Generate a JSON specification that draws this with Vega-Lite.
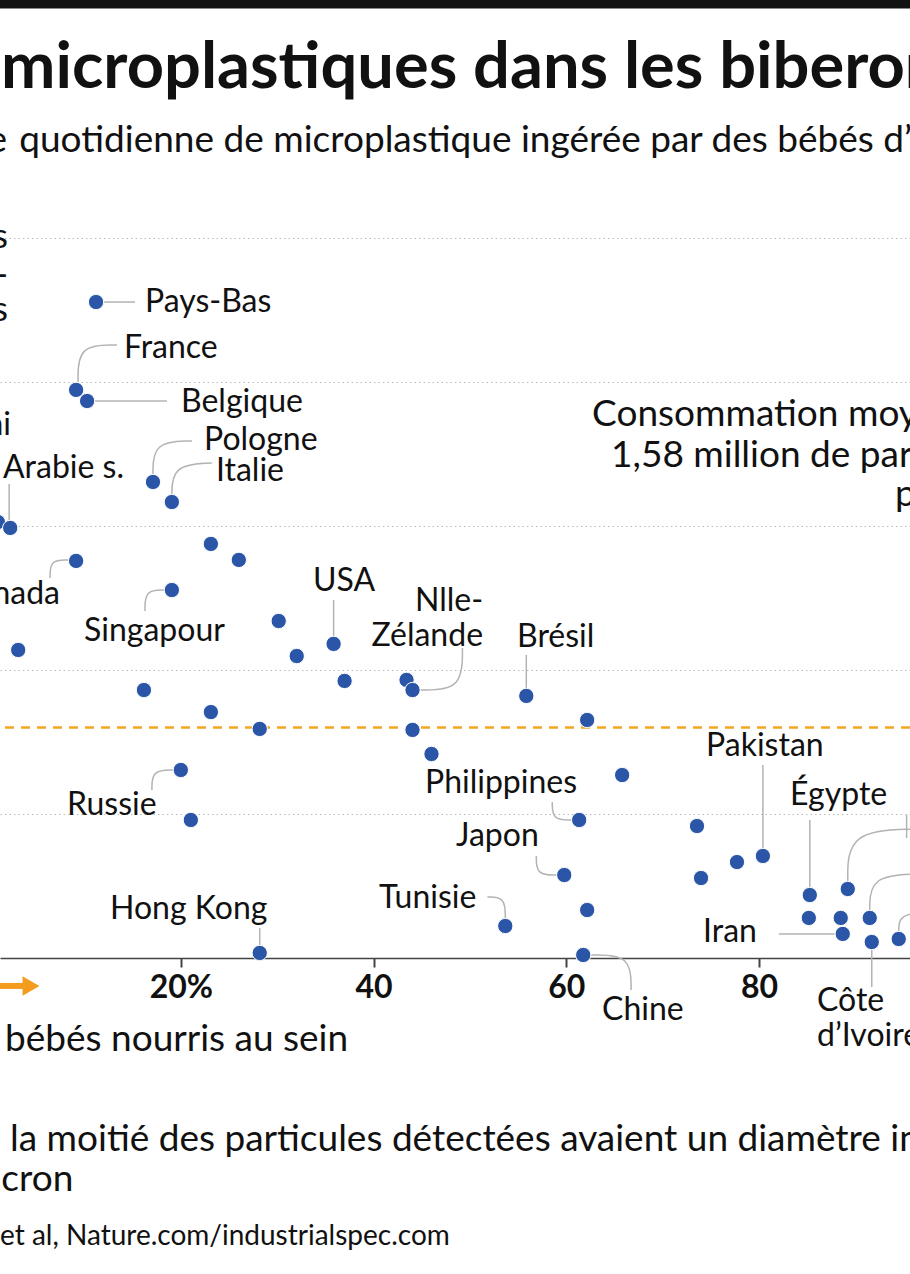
{
  "$schema": "https://vega.github.io/schema/vega-lite/v6.json",
  "width": 910,
  "height": 778,
  "autosize": {"type": "none"},
  "padding": {"left": 0, "right": 0, "top": 180, "bottom": 316},
  "background": "white",
  "config": {
    "view": {"stroke": null},
    "font": "Lato",
    "axisX": {"grid": false, "domainColor": "#444444", "domainWidth": 1.5, "tickColor": "#444444", "tickSize": 9, "tickWidth": 2, "labelFont": "Lato", "labelFontWeight": "bold", "labelFontSize": 32, "labelColor": "#111111", "labelPadding": 5, "labelFlush": false},
    "axisY": {"grid": true, "gridDash": [1.5, 3], "gridColor": "#b8b8b8", "gridWidth": 1, "labels": false, "ticks": false, "domain": false}
  },
  "datasets": {
    "points": [
      {"pays": "Pays-Bas", "allaitement": 11.19, "particules": 4.553},
      {"pays": "France", "allaitement": 9.12, "particules": 3.943},
      {"pays": "Belgique", "allaitement": 10.26, "particules": 3.866},
      {"pays": "Pologne", "allaitement": 17.10, "particules": 3.304},
      {"pays": "Italie", "allaitement": 19.06, "particules": 3.165},
      {"pays": "Royaume-Uni", "allaitement": 1.0, "particules": 3.026},
      {"pays": "Arabie saoudite", "allaitement": 2.28, "particules": 2.985},
      {"pays": null, "allaitement": 23.11, "particules": 2.874},
      {"pays": null, "allaitement": 26.01, "particules": 2.763},
      {"pays": "Canada", "allaitement": 9.12, "particules": 2.756},
      {"pays": "Singapour", "allaitement": 19.06, "particules": 2.554},
      {"pays": null, "allaitement": 3.11, "particules": 2.138},
      {"pays": null, "allaitement": 30.15, "particules": 2.339},
      {"pays": "USA", "allaitement": 35.85, "particules": 2.180},
      {"pays": null, "allaitement": 32.02, "particules": 2.096},
      {"pays": null, "allaitement": 36.99, "particules": 1.923},
      {"pays": null, "allaitement": 43.42, "particules": 1.930},
      {"pays": "Nlle-Zélande", "allaitement": 44.04, "particules": 1.860},
      {"pays": null, "allaitement": 16.16, "particules": 1.860},
      {"pays": "Brésil", "allaitement": 55.85, "particules": 1.819},
      {"pays": null, "allaitement": 23.11, "particules": 1.707},
      {"pays": null, "allaitement": 62.17, "particules": 1.652},
      {"pays": null, "allaitement": 28.18, "particules": 1.590},
      {"pays": null, "allaitement": 44.04, "particules": 1.583},
      {"pays": null, "allaitement": 46.01, "particules": 1.416},
      {"pays": null, "allaitement": 65.80, "particules": 1.270},
      {"pays": "Russie", "allaitement": 19.99, "particules": 1.305},
      {"pays": null, "allaitement": 21.03, "particules": 0.958},
      {"pays": "Philippines", "allaitement": 61.34, "particules": 0.958},
      {"pays": null, "allaitement": 73.57, "particules": 0.916},
      {"pays": "Pakistan", "allaitement": 80.41, "particules": 0.708},
      {"pays": null, "allaitement": 77.72, "particules": 0.666},
      {"pays": null, "allaitement": 73.99, "particules": 0.555},
      {"pays": "Japon", "allaitement": 59.79, "particules": 0.576},
      {"pays": "Tunisie", "allaitement": 53.67, "particules": 0.222},
      {"pays": null, "allaitement": 62.17, "particules": 0.333},
      {"pays": "Hong Kong", "allaitement": 28.18, "particules": 0.035},
      {"pays": "Chine", "allaitement": 61.76, "particules": 0.021},
      {"pays": "Égypte", "allaitement": 85.28, "particules": 0.437},
      {"pays": null, "allaitement": 85.18, "particules": 0.278},
      {"pays": null, "allaitement": 89.22, "particules": 0.479},
      {"pays": null, "allaitement": 88.49, "particules": 0.278},
      {"pays": "Iran", "allaitement": 88.70, "particules": 0.167},
      {"pays": null, "allaitement": 91.50, "particules": 0.278},
      {"pays": "Côte d’Ivoire", "allaitement": 91.71, "particules": 0.111},
      {"pays": null, "allaitement": 94.51, "particules": 0.132}
    ],
    "etiquettes": [
      {"texte": "Pays-Bas", "x": 16.27, "y": 4.553, "ancrage": "gauche"},
      {"texte": "France", "x": 14.09, "y": 4.234, "ancrage": "gauche"},
      {"texte": "Belgique", "x": 20.01, "y": 3.859, "ancrage": "gauche"},
      {"texte": "Pologne", "x": 22.40, "y": 3.595, "ancrage": "gauche"},
      {"texte": "Italie", "x": 23.64, "y": 3.380, "ancrage": "gauche"},
      {"texte": "Arabie s.", "x": 1.53, "y": 3.401, "ancrage": "gauche"},
      {"texte": "Singapour", "x": 9.94, "y": 2.270, "ancrage": "gauche"},
      {"texte": "Brésil", "x": 54.89, "y": 2.228, "ancrage": "gauche"},
      {"texte": "Russie", "x": 8.18, "y": 1.062, "ancrage": "gauche"},
      {"texte": "Philippines", "x": 45.34, "y": 1.215, "ancrage": "gauche"},
      {"texte": "Japon", "x": 48.56, "y": 0.847, "ancrage": "gauche"},
      {"texte": "Tunisie", "x": 40.56, "y": 0.416, "ancrage": "gauche"},
      {"texte": "Hong Kong", "x": 12.64, "y": 0.340, "ancrage": "gauche"},
      {"texte": "Chine", "x": 63.71, "y": -0.361, "ancrage": "gauche"},
      {"texte": "Pakistan", "x": 74.51, "y": 1.472, "ancrage": "gauche"},
      {"texte": "Égypte", "x": 83.23, "y": 1.131, "ancrage": "gauche"},
      {"texte": "Iran", "x": 74.20, "y": 0.180, "ancrage": "gauche"},
      {"texte": "Côte\nd’Ivoire", "x": 86.03, "y": -0.298, "ancrage": "gauche"},
      {"texte": "Royaume-Uni", "x": 2.36, "y": 3.700, "ancrage": "droite"},
      {"texte": "Canada", "x": 7.45, "y": 2.527, "ancrage": "droite"},
      {"texte": "Nlle-\nZélande", "x": 51.36, "y": 2.478, "ancrage": "droite"},
      {"texte": "USA", "x": 36.93, "y": 2.617, "ancrage": "centre"}
    ],
    "traits": [
      {"id": "Pays-Bas", "ordre": 1, "x": 12.02, "y": 4.553},
      {"id": "Pays-Bas", "ordre": 2, "x": 15.23, "y": 4.553},
      {"id": "France", "ordre": 1, "x": 9.32, "y": 3.998},
      {"id": "France", "ordre": 2, "x": 9.32, "y": 4.255},
      {"id": "France", "ordre": 3, "x": 13.36, "y": 4.255},
      {"id": "Belgique", "ordre": 1, "x": 11.08, "y": 3.866},
      {"id": "Belgique", "ordre": 2, "x": 18.55, "y": 3.866},
      {"id": "Pologne", "ordre": 1, "x": 17.10, "y": 3.353},
      {"id": "Pologne", "ordre": 2, "x": 17.10, "y": 3.582},
      {"id": "Pologne", "ordre": 3, "x": 21.14, "y": 3.589},
      {"id": "Italie", "ordre": 1, "x": 19.06, "y": 3.193},
      {"id": "Italie", "ordre": 2, "x": 19.06, "y": 3.422},
      {"id": "Italie", "ordre": 3, "x": 23.21, "y": 3.436},
      {"id": "Arabie", "ordre": 1, "x": 2.17, "y": 3.033},
      {"id": "Arabie", "ordre": 2, "x": 2.17, "y": 3.290},
      {"id": "Canada", "ordre": 1, "x": 8.29, "y": 2.763},
      {"id": "Canada", "ordre": 2, "x": 6.42, "y": 2.763},
      {"id": "Canada", "ordre": 3, "x": 6.42, "y": 2.638},
      {"id": "Singapour", "ordre": 1, "x": 18.34, "y": 2.554},
      {"id": "Singapour", "ordre": 2, "x": 16.27, "y": 2.554},
      {"id": "Singapour", "ordre": 3, "x": 16.27, "y": 2.409},
      {"id": "USA", "ordre": 1, "x": 35.85, "y": 2.228},
      {"id": "USA", "ordre": 2, "x": 35.85, "y": 2.485},
      {"id": "NZ", "ordre": 1, "x": 44.76, "y": 1.860},
      {"id": "NZ", "ordre": 2, "x": 49.22, "y": 1.860},
      {"id": "NZ", "ordre": 3, "x": 49.22, "y": 2.152},
      {"id": "Brésil", "ordre": 1, "x": 55.85, "y": 1.867},
      {"id": "Brésil", "ordre": 2, "x": 55.85, "y": 2.103},
      {"id": "Russie", "ordre": 1, "x": 19.27, "y": 1.305},
      {"id": "Russie", "ordre": 2, "x": 16.99, "y": 1.305},
      {"id": "Russie", "ordre": 3, "x": 16.99, "y": 1.166},
      {"id": "Philippines", "ordre": 1, "x": 60.62, "y": 0.958},
      {"id": "Philippines", "ordre": 2, "x": 58.55, "y": 0.958},
      {"id": "Philippines", "ordre": 3, "x": 58.55, "y": 1.083},
      {"id": "Japon", "ordre": 1, "x": 59.06, "y": 0.576},
      {"id": "Japon", "ordre": 2, "x": 56.89, "y": 0.576},
      {"id": "Japon", "ordre": 3, "x": 56.89, "y": 0.708},
      {"id": "Tunisie", "ordre": 1, "x": 53.67, "y": 0.271},
      {"id": "Tunisie", "ordre": 2, "x": 53.67, "y": 0.423},
      {"id": "Tunisie", "ordre": 3, "x": 51.81, "y": 0.423},
      {"id": "HongKong", "ordre": 1, "x": 28.18, "y": 0.083},
      {"id": "HongKong", "ordre": 2, "x": 28.18, "y": 0.208},
      {"id": "Chine", "ordre": 1, "x": 62.59, "y": 0.021},
      {"id": "Chine", "ordre": 2, "x": 66.73, "y": 0.021},
      {"id": "Chine", "ordre": 3, "x": 66.73, "y": -0.222},
      {"id": "Pakistan", "ordre": 1, "x": 80.41, "y": 0.757},
      {"id": "Pakistan", "ordre": 2, "x": 80.41, "y": 1.340},
      {"id": "Égypte", "ordre": 1, "x": 85.28, "y": 0.486},
      {"id": "Égypte", "ordre": 2, "x": 85.28, "y": 0.958},
      {"id": "Iran", "ordre": 1, "x": 82.07, "y": 0.167},
      {"id": "Iran", "ordre": 2, "x": 87.87, "y": 0.167},
      {"id": "Côte", "ordre": 1, "x": 91.71, "y": 0.062},
      {"id": "Côte", "ordre": 2, "x": 91.71, "y": -0.201},
      {"id": "D1", "ordre": 1, "x": 89.22, "y": 0.528},
      {"id": "D1", "ordre": 2, "x": 89.22, "y": 0.888},
      {"id": "D1", "ordre": 3, "x": 96.58, "y": 0.895},
      {"id": "D2", "ordre": 1, "x": 91.50, "y": 0.326},
      {"id": "D2", "ordre": 2, "x": 91.50, "y": 0.569},
      {"id": "D2", "ordre": 3, "x": 96.58, "y": 0.583},
      {"id": "D3", "ordre": 1, "x": 94.51, "y": 0.180},
      {"id": "D3", "ordre": 2, "x": 94.51, "y": 0.298},
      {"id": "D3", "ordre": 3, "x": 97.10, "y": 0.319},
      {"id": "D4", "ordre": 1, "x": 95.33, "y": 0.993},
      {"id": "D4", "ordre": 2, "x": 95.33, "y": 0.833}
    ],
    "notes": [
      {"texte": "Des microplastiques dans les biberons", "x": 1.53, "y": 6.039, "role": "titre"},
      {"texte": "Quantité moyenne", "x": 1.95, "y": 5.594, "role": "soustitre_fin"},
      {"texte": "quotidienne de microplastique ingérée par des bébés d’un an", "x": 3.22, "y": 5.594, "role": "soustitre"},
      {"texte": "En millions", "x": 2.05, "y": 5.004, "role": "axe"},
      {"texte": "de parti-", "x": 2.05, "y": 4.741, "role": "axe"},
      {"texte": "cules", "x": 2.05, "y": 4.498, "role": "axe"},
      {"texte": "Consommation moyenne :", "x": 62.68, "y": 3.769, "role": "note"},
      {"texte": "1,58 million de particules", "x": 64.65, "y": 3.484, "role": "note"},
      {"texte": "par jour", "x": 94.13, "y": 3.214, "role": "note"},
      {"texte": "bébés nourris au sein", "x": 1.74, "y": -0.569, "role": "note"},
      {"texte": "la moitié des particules détectées avaient un diamètre inférieur à 1", "x": 2.26, "y": -1.263, "role": "note"},
      {"texte": "micron", "x": -2.72, "y": -1.541, "role": "note"},
      {"texte": "et al, Nature.com/industrialspec.com", "x": 1.22, "y": -1.937, "role": "source"}
    ],
    "repere": [{"moyenne": 1.6}]
  },
  "layer": [
    {
      "data": {"name": "repere"},
      "mark": {"type": "rect", "color": "#111111"},
      "encoding": {
        "x": {"datum": -5, "type": "quantitative", "scale": {"domain": [1.22, 95.68], "nice": false, "zero": false}, "title": null},
        "x2": {"datum": 100},
        "y": {"datum": 6.59, "type": "quantitative", "scale": {"domain": [0, 5.4], "nice": false, "zero": false}, "title": null},
        "y2": {"datum": 6.9}
      }
    },
    {
      "data": {"name": "points"},
      "mark": {"type": "circle", "opacity": 0},
      "encoding": {
        "x": {"field": "allaitement", "type": "quantitative", "scale": {"domain": [1.22, 95.68], "nice": false, "zero": false}, "title": null,
          "axis": {"values": [20, 40, 60, 80], "labelExpr": "datum.value == 20 ? '20%' : datum.label"}},
        "y": {"field": "particules", "type": "quantitative", "scale": {"domain": [0, 5.4], "nice": false, "zero": false}, "title": null,
          "axis": {"values": [1, 2, 3, 4, 5]}}
      }
    },
    {
      "data": {"name": "repere"},
      "mark": {"type": "rule", "color": "#f5a623", "strokeDash": [9, 7], "strokeWidth": 2.5},
      "encoding": {
        "y": {"field": "moyenne", "type": "quantitative", "scale": {"domain": [0, 5.4], "nice": false, "zero": false}, "title": null}
      }
    },
    {
      "data": {"name": "traits"},
      "mark": {"type": "line", "interpolate": "basis", "color": "#b3b3b3", "strokeWidth": 1.5},
      "encoding": {
        "x": {"field": "x", "type": "quantitative", "scale": {"domain": [1.22, 95.68], "nice": false, "zero": false}, "title": null},
        "y": {"field": "y", "type": "quantitative", "scale": {"domain": [0, 5.4], "nice": false, "zero": false}, "title": null},
        "detail": {"field": "id"},
        "order": {"field": "ordre"}
      }
    },
    {
      "data": {"name": "points"},
      "mark": {"type": "circle", "size": 235, "color": "#2b56a8", "opacity": 1, "stroke": "white", "strokeWidth": 1},
      "encoding": {
        "x": {"field": "allaitement", "type": "quantitative", "scale": {"domain": [1.22, 95.68], "nice": false, "zero": false}, "title": null},
        "y": {"field": "particules", "type": "quantitative", "scale": {"domain": [0, 5.4], "nice": false, "zero": false}, "title": null},
        "tooltip": [{"field": "pays"}, {"field": "allaitement"}, {"field": "particules"}]
      }
    },
    {
      "data": {"name": "etiquettes"},
      "transform": [{"filter": "datum.ancrage == 'gauche'"}],
      "mark": {"type": "text", "align": "left", "baseline": "middle", "font": "Lato", "fontSize": 32, "color": "#111111", "lineBreak": "\n", "lineHeight": 35},
      "encoding": {
        "x": {"field": "x", "type": "quantitative", "scale": {"domain": [1.22, 95.68], "nice": false, "zero": false}, "title": null},
        "y": {"field": "y", "type": "quantitative", "scale": {"domain": [0, 5.4], "nice": false, "zero": false}, "title": null},
        "text": {"field": "texte"}
      }
    },
    {
      "data": {"name": "etiquettes"},
      "transform": [{"filter": "datum.ancrage == 'droite'"}],
      "mark": {"type": "text", "align": "right", "baseline": "middle", "font": "Lato", "fontSize": 32, "color": "#111111", "lineBreak": "\n", "lineHeight": 35},
      "encoding": {
        "x": {"field": "x", "type": "quantitative", "scale": {"domain": [1.22, 95.68], "nice": false, "zero": false}, "title": null},
        "y": {"field": "y", "type": "quantitative", "scale": {"domain": [0, 5.4], "nice": false, "zero": false}, "title": null},
        "text": {"field": "texte"}
      }
    },
    {
      "data": {"name": "etiquettes"},
      "transform": [{"filter": "datum.ancrage == 'centre'"}],
      "mark": {"type": "text", "align": "center", "baseline": "middle", "font": "Lato", "fontSize": 32, "color": "#111111"},
      "encoding": {
        "x": {"field": "x", "type": "quantitative", "scale": {"domain": [1.22, 95.68], "nice": false, "zero": false}, "title": null},
        "y": {"field": "y", "type": "quantitative", "scale": {"domain": [0, 5.4], "nice": false, "zero": false}, "title": null},
        "text": {"field": "texte"}
      }
    },
    {
      "data": {"name": "notes"},
      "transform": [{"filter": "datum.role == 'titre'"}],
      "mark": {"type": "text", "align": "left", "baseline": "alphabetic", "font": "Lato", "fontSize": 65, "fontWeight": "bold", "color": "#111111", "dx": -130},
      "encoding": {
        "x": {"field": "x", "type": "quantitative", "scale": {"domain": [1.22, 95.68], "nice": false, "zero": false}, "title": null},
        "y": {"field": "y", "type": "quantitative", "scale": {"domain": [0, 5.4], "nice": false, "zero": false}, "title": null},
        "text": {"field": "texte"}
      }
    },
    {
      "data": {"name": "notes"},
      "transform": [{"filter": "datum.role == 'soustitre'"}],
      "mark": {"type": "text", "align": "left", "baseline": "alphabetic", "font": "Lato", "fontSize": 37, "color": "#111111"},
      "encoding": {
        "x": {"field": "x", "type": "quantitative", "scale": {"domain": [1.22, 95.68], "nice": false, "zero": false}, "title": null},
        "y": {"field": "y", "type": "quantitative", "scale": {"domain": [0, 5.4], "nice": false, "zero": false}, "title": null},
        "text": {"field": "texte"}
      }
    },
    {
      "data": {"name": "notes"},
      "transform": [{"filter": "datum.role == 'soustitre_fin'"}],
      "mark": {"type": "text", "align": "right", "baseline": "alphabetic", "font": "Lato", "fontSize": 37, "color": "#111111"},
      "encoding": {
        "x": {"field": "x", "type": "quantitative", "scale": {"domain": [1.22, 95.68], "nice": false, "zero": false}, "title": null},
        "y": {"field": "y", "type": "quantitative", "scale": {"domain": [0, 5.4], "nice": false, "zero": false}, "title": null},
        "text": {"field": "texte"}
      }
    },
    {
      "data": {"name": "notes"},
      "transform": [{"filter": "datum.role == 'note'"}],
      "mark": {"type": "text", "align": "left", "baseline": "middle", "font": "Lato", "fontSize": 37, "color": "#111111"},
      "encoding": {
        "x": {"field": "x", "type": "quantitative", "scale": {"domain": [1.22, 95.68], "nice": false, "zero": false}, "title": null},
        "y": {"field": "y", "type": "quantitative", "scale": {"domain": [0, 5.4], "nice": false, "zero": false}, "title": null},
        "text": {"field": "texte"}
      }
    },
    {
      "data": {"name": "notes"},
      "transform": [{"filter": "datum.role == 'axe'"}],
      "mark": {"type": "text", "align": "right", "baseline": "middle", "font": "Lato", "fontSize": 35, "color": "#111111"},
      "encoding": {
        "x": {"field": "x", "type": "quantitative", "scale": {"domain": [1.22, 95.68], "nice": false, "zero": false}, "title": null},
        "y": {"field": "y", "type": "quantitative", "scale": {"domain": [0, 5.4], "nice": false, "zero": false}, "title": null},
        "text": {"field": "texte"}
      }
    },
    {
      "data": {"name": "notes"},
      "transform": [{"filter": "datum.role == 'source'"}],
      "mark": {"type": "text", "align": "left", "baseline": "middle", "font": "Lato", "fontSize": 28, "color": "#111111"},
      "encoding": {
        "x": {"field": "x", "type": "quantitative", "scale": {"domain": [1.22, 95.68], "nice": false, "zero": false}, "title": null},
        "y": {"field": "y", "type": "quantitative", "scale": {"domain": [0, 5.4], "nice": false, "zero": false}, "title": null},
        "text": {"field": "texte"}
      }
    },
    {
      "data": {"name": "repere"},
      "mark": {"type": "rule", "color": "#f39c1e", "strokeWidth": 6},
      "encoding": {
        "x": {"datum": 1.0, "type": "quantitative", "scale": {"domain": [1.22, 95.68], "nice": false, "zero": false}, "title": null},
        "x2": {"datum": 3.9},
        "y": {"datum": -0.194, "type": "quantitative", "scale": {"domain": [0, 5.4], "nice": false, "zero": false}, "title": null}
      }
    },
    {
      "data": {"name": "repere"},
      "mark": {"type": "point", "shape": "triangle-right", "filled": true, "color": "#f39c1e", "opacity": 1, "size": 380},
      "encoding": {
        "x": {"datum": 4.44, "type": "quantitative", "scale": {"domain": [1.22, 95.68], "nice": false, "zero": false}, "title": null},
        "y": {"datum": -0.194, "type": "quantitative", "scale": {"domain": [0, 5.4], "nice": false, "zero": false}, "title": null}
      }
    }
  ]
}
